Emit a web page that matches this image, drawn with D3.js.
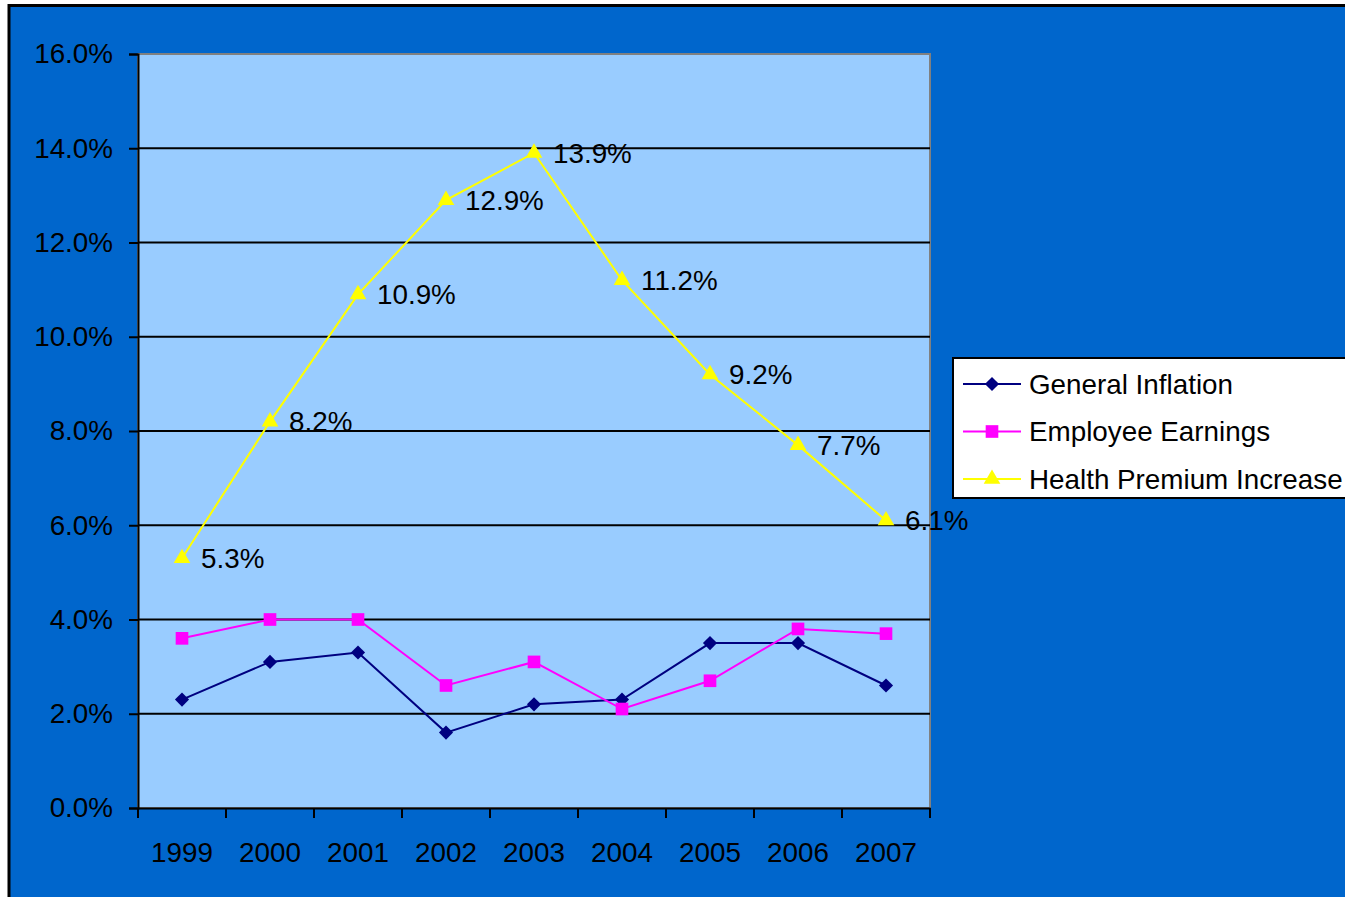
<!DOCTYPE html>
<html><head><meta charset="utf-8">
<script src="https://cdn.jsdelivr.net/npm/d3@7"></script>
<style>html,body{margin:0;padding:0;background:#fff;overflow:hidden}svg{display:block}</style>
</head><body>
<svg id="chart" width="1345" height="897"></svg>
<script>
const years = ["1999","2000","2001","2002","2003","2004","2005","2006","2007"];
const generalInflation = [2.3, 3.1, 3.3, 1.6, 2.2, 2.3, 3.5, 3.5, 2.6];
const employeeEarnings = [3.6, 4.0, 4.0, 2.6, 3.1, 2.1, 2.7, 3.8, 3.7];
const healthPremium = [5.3, 8.2, 10.9, 12.9, 13.9, 11.2, 9.2, 7.7, 6.1];
const yTicks = [0, 2, 4, 6, 8, 10, 12, 14, 16];
const seriesNames = ["General Inflation", "Employee Earnings", "Health Premium Increase"];

const svg = d3.select("#chart");
const font = "'Liberation Sans', Arial, sans-serif";
const fs = 27.8;

// background with outer border
svg.append("rect").attr("x", 9).attr("y", 5.5).attr("width", 1400).attr("height", 1000)
  .attr("fill", "#0066CC").attr("stroke", "#000").attr("stroke-width", 3);

const L = 138, R = 930, T = 54, B = 808;
const x = d3.scaleBand().domain(years).range([L, R]);
const y = d3.scaleLinear().domain([0, 16]).range([B, T]);

// plot area
svg.append("rect").attr("x", L).attr("y", T).attr("width", R - L).attr("height", B - T)
  .attr("fill", "#99CCFF").attr("stroke", "#808080").attr("stroke-width", 2);

// gridlines
svg.append("g").selectAll("line").data(yTicks.filter(d => d > 0 && d < 16)).join("line")
  .attr("x1", L).attr("x2", R).attr("y1", d => y(d)).attr("y2", d => y(d))
  .attr("stroke", "#000").attr("stroke-width", 2);

// y axis
const yAxis = d3.axisLeft(y).tickValues(yTicks).tickSize(9).tickPadding(16)
  .tickFormat(d => d.toFixed(1) + "%");
const gy = svg.append("g").attr("transform", `translate(${L},0)`).call(yAxis);
gy.select(".domain").attr("stroke", "#000").attr("stroke-width", 2);
gy.selectAll(".tick line").attr("stroke", "#000").attr("stroke-width", 2);
gy.selectAll("text").attr("font-family", font).attr("font-size", fs).attr("fill", "#000");

// x axis
const xAxis = d3.axisBottom(x).tickSize(0).tickPadding(54);
const gx = svg.append("g").attr("transform", `translate(0,${B})`).call(xAxis);
gx.select(".domain").attr("stroke", "#000").attr("stroke-width", 2);
gx.selectAll("text").attr("font-family", font).attr("font-size", fs).attr("fill", "#000").attr("dy", "0");
// category boundary ticks
const bounds = years.map(d => x(d)).concat([x(years[years.length - 1]) + x.bandwidth()]);
svg.append("g").selectAll("line").data(bounds).join("line")
  .attr("x1", d => d).attr("x2", d => d).attr("y1", B).attr("y2", B + 10)
  .attr("stroke", "#000").attr("stroke-width", 2);

const cx = d => x(d) + x.bandwidth() / 2;

const series = [
  { name: seriesNames[0], values: generalInflation, color: "#000080", symbol: d3.symbolSquare, size: 100, rot: 45 },
  { name: seriesNames[1], values: employeeEarnings, color: "#FF00FF", symbol: d3.symbolSquare, size: 160, rot: 0 },
  { name: seriesNames[2], values: healthPremium, color: "#FFFF00", symbol: d3.symbolTriangle, size: 120, rot: 0 }
];

const line = d3.line().x((d, i) => cx(years[i])).y(d => y(d));

series.forEach(s => {
  const g = svg.append("g");
  g.append("path").datum(s.values).attr("d", line).attr("fill", "none")
    .attr("stroke", s.color).attr("stroke-width", 2);
  g.selectAll("path.m").data(s.values).join("path").attr("class", "m")
    .attr("d", d3.symbol().type(s.symbol).size(s.size))
    .attr("transform", (d, i) => `translate(${cx(years[i])},${y(d)}) rotate(${s.rot})`)
    .attr("fill", s.color);
});

// data labels for health premium
svg.append("g").selectAll("text").data(healthPremium).join("text")
  .attr("x", (d, i) => cx(years[i]) + 19).attr("y", d => y(d)).attr("dy", "0.35em")
  .attr("font-family", font).attr("font-size", fs).attr("fill", "#000")
  .text(d => d.toFixed(1) + "%");

// legend
const lg = svg.append("g");
lg.append("rect").attr("x", 953).attr("y", 358).attr("width", 420).attr("height", 140)
  .attr("fill", "#fff").attr("stroke", "#000").attr("stroke-width", 2);
series.forEach((s, i) => {
  const ly = 384 + i * 47.5;
  lg.append("line").attr("x1", 963).attr("x2", 1021).attr("y1", ly).attr("y2", ly)
    .attr("stroke", s.color).attr("stroke-width", 2);
  lg.append("path").attr("d", d3.symbol().type(s.symbol).size(s.size))
    .attr("transform", `translate(992,${ly}) rotate(${s.rot})`)
    .attr("fill", s.color);
  lg.append("text").attr("x", 1029).attr("y", ly).attr("dy", "0.35em")
    .attr("font-family", font).attr("font-size", fs).attr("fill", "#000").text(s.name);
});
</script>
</body></html>
